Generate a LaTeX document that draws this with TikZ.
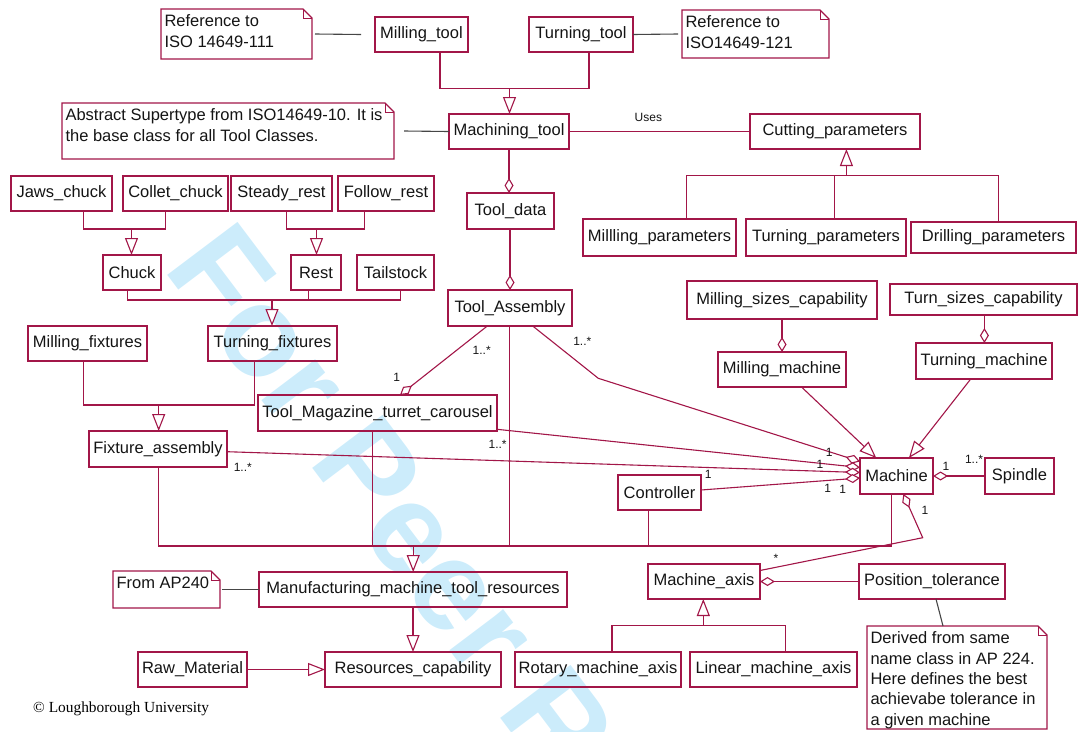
\documentclass[tikz,border=0pt]{standalone}
\usepackage{fontspec}
\setmainfont{Liberation Sans}
\newfontfamily\serifcr{Liberation Serif}
\usetikzlibrary{arrows.meta}
\definecolor{umlred}{RGB}{162,22,72}
\definecolor{notegray}{RGB}{70,70,70}
\definecolor{wmblue}{RGB}{204,236,251}
\definecolor{txt}{RGB}{20,20,20}
\tikzset{
  cls/.style={draw=umlred, line width=1.2pt, inner sep=2pt, outer sep=0pt, text=txt, font=\fontsize{16.5}{19}\selectfont},
  notebox/.style={inner sep=0pt, outer sep=0pt},
  notetext/.style={inner sep=0pt, outer sep=0pt, text=txt, align=left, font=\fontsize{16.5}{20.3}\selectfont},
  noteline/.style={draw=umlred, line width=1.2pt},
  noteconn/.style={draw=notegray, line width=1.1pt},
  rel/.style={draw=umlred, line width=1.1pt},
  gen/.style={rel, -{Triangle[fill=white, length=17pt, width=13pt]}},
  agg/.style={rel, -{Diamond[fill=white, length=15pt, width=9pt]}},
  mult/.style={font=\fontsize{12}{12}\selectfont, text=txt, inner sep=0pt, text height=8.6pt, text depth=0pt},
  wm/.style={font=\fontsize{128}{128}\selectfont\bfseries, text=wmblue, inner sep=0pt},
}
\newcommand{\bx}[6]{\node[cls, minimum width={#4-#2}, minimum height={#5-#3}] (#1) at ({(#2+#4)/2},{(#3+#5)/2}) {#6};}
\newcommand{\nt}[6]{\node[notebox, minimum width={#4-#2}, minimum height={#5-#3}] (#1) at ({(#2+#4)/2},{(#3+#5)/2}) {};
  \draw[noteline] (#1.south west) -- (#1.north west) -- ([xshift=-9pt]#1.north east) -- ([yshift=-9pt]#1.north east) -- (#1.south east) -- cycle;
  \draw[noteline, line width=0.8pt] ([xshift=-9pt]#1.north east) -- ([xshift=-9pt,yshift=-9pt]#1.north east) -- ([yshift=-9pt]#1.north east);
  \node[notetext, anchor=north west] (#1t) at ([xshift=3.5pt,yshift=-6pt]#1.north west) {#6};}
\begin{document}
\begin{tikzpicture}[x=1pt,y=-1pt]
\useasboundingbox (0,0) rectangle (1078,731);
\clip (0,0) rectangle (1078,731);
\node[wm, anchor=base west, rotate=-53] (wm) at (162,268) {For Peer Review};

% classes
\bx{milltool}{375}{17}{468}{52}{Milling\_tool}
\bx{turntool}{529}{17}{633}{52}{Turning\_tool}
\bx{machtool}{449}{114}{569}{149}{Machining\_tool}
\bx{cutpar}{750}{114}{920}{149}{Cutting\_parameters}
\bx{millpar}{583}{219}{736}{256}{Millling\_parameters}
\bx{turnpar}{746}{219}{906}{256}{Turning\_parameters}
\bx{drillpar}{911}{222}{1076}{253}{Drilling\_parameters}
\bx{tooldata}{467}{193}{554}{229}{Tool\_data}
\bx{toolasm}{448}{290}{572}{326}{Tool\_Assembly}
\bx{jaws}{11}{176}{112}{211}{Jaws\_chuck}
\bx{collet}{123}{176}{228}{211}{Collet\_chuck}
\bx{steady}{231}{176}{332}{211}{Steady\_rest}
\bx{follow}{338}{176}{434}{211}{Follow\_rest}
\bx{chuck}{103}{255}{161}{290}{Chuck}
\bx{rest}{291}{255}{341}{290}{Rest}
\bx{tail}{357}{255}{434}{290}{Tailstock}
\bx{millfix}{28}{326}{147}{361}{Milling\_fixtures}
\bx{turnfix}{208}{326}{337}{361}{Turning\_fixtures}
\bx{fixasm}{89}{431}{227}{467}{Fixture\_assembly}
\bx{tmtc}{258}{395}{497}{431}{Tool\_Magazine\_turret\_carousel}
\bx{millsz}{687}{281}{877}{319}{Milling\_sizes\_capability}
\bx{turnsz}{890}{284}{1077}{315}{Turn\_sizes\_capability}
\bx{millmach}{718}{352}{846}{387}{Milling\_machine}
\bx{turnmach}{916}{343}{1052}{379}{Turning\_machine}
\bx{machine}{860}{458}{933}{494}{Machine}
\bx{spindle}{985}{458}{1054}{494}{Spindle}
\bx{controller}{618}{475}{701}{510}{Controller}
\bx{mmtr}{259}{572}{567}{607}{Manufacturing\_machine\_tool\_resources}
\bx{rescap}{325}{652}{501}{687}{Resources\_capability}
\bx{raw}{138}{652}{247}{687}{Raw\_Material}
\bx{maxis}{648}{564}{760}{599}{Machine\_axis}
\bx{postol}{859}{564}{1005}{599}{Position\_tolerance}
\bx{rotary}{515}{652}{681}{687}{Rotary\_machine\_axis}
\bx{linear}{690}{652}{857}{687}{Linear\_machine\_axis}

% notes
\nt{note1}{161}{9}{312}{59}{Reference to\\ISO 14649-111}
\nt{note2}{62}{103}{394}{159}{Abstract Supertype from ISO14649-10. It is\\the base class for all Tool Classes.}
\nt{note3}{682}{10}{829}{58}{Reference to\\ISO14649-121}
\nt{note4}{867}{626}{1047}{729}{Derived from same\\name class in AP 224.\\Here defines the best\\achievabe tolerance in\\a given machine}
\nt{note5}{113}{571}{220}{608}{From AP240}

% note connectors
\draw[noteconn] ([xshift=3pt]note1.east) -- ([xshift=-14pt]milltool.west);
\draw[noteconn] (turntool.east) -- ([xshift=-4pt]note3.west);
\draw[noteconn] ([xshift=10pt]note2.east) -- (machtool.west);
\draw[noteconn] ([xshift=2pt]note5.east) -- (mmtr.west);
\draw[noteconn] ([xshift=4pt]postol.south) -- ([xshift=-14pt]note4.north);

% generalizations
\coordinate (g1) at (509.5,88.3);
\draw[rel] ([xshift=18.5pt]milltool.south) |- (g1) -| ([xshift=8pt]turntool.south);
\draw[gen] (g1) -- (g1 |- machtool.north);

\coordinate (g2) at (846.4,175.7);
\draw[rel] ([xshift=27.4pt]millpar.north) |- (g2) -| ([xshift=4.6pt]drillpar.north);
\draw[rel] ([xshift=8.4pt]turnpar.north) -- ([xshift=8.4pt]turnpar.north |- g2);
\draw[gen] (g2) -- (g2 |- cutpar.south);

\coordinate (g3) at (131.5,229);
\draw[rel] ([xshift=22.2pt]jaws.south) |- (g3) -| ([xshift=-10pt]collet.south);
\draw[gen] (g3) -- (g3 |- chuck.north);

\coordinate (g4) at (316.5,229);
\draw[rel] ([xshift=5.3pt]steady.south) |- (g4) -| ([xshift=-21.3pt]follow.south);
\draw[gen] (g4) -- (g4 |- rest.north);

\coordinate (g5) at (272,300);
\draw[rel] ([xshift=-4.2pt]chuck.south) |- (g5) -| ([xshift=5pt]tail.south);
\draw[rel] ([xshift=-7.1pt]rest.south) -- ([xshift=-7.1pt]rest.south |- g5);
\draw[gen] (g5) -- (g5 |- turnfix.north);

\coordinate (g6) at (158.7,405);
\draw[rel] ([xshift=-3.8pt]millfix.south) |- (g6) -| ([xshift=-18.4pt]turnfix.south);
\draw[gen] (g6) -- (g6 |- fixasm.north);

\coordinate (g7) at (413.2,546);
\draw[rel] ([xshift=0.7pt]fixasm.south) |- (g7) -| ([xshift=-4.8pt]machine.south);
\draw[rel] ([xshift=-4.6pt]tmtc.south) -- ([xshift=-4.6pt]tmtc.south |- g7);
\draw[rel] ([xshift=-0.4pt]toolasm.south) -- ([xshift=-0.4pt]toolasm.south |- g7);
\draw[rel] ([xshift=-11.2pt]controller.south) -- ([xshift=-11.2pt]controller.south |- g7);
\draw[gen] (g7) -- (g7 |- mmtr.north);

\draw[gen] (mmtr.south) -- (mmtr.south |- rescap.north);
\draw[gen] (raw.east) -- (rescap.west);

\draw[gen] ([xshift=19.5pt]millmach.south) -- ([xshift=-20.2pt]machine.north);
\draw[gen] ([xshift=-13.3pt]turnmach.south) -- ([xshift=12.4pt]machine.north);

\coordinate (g8) at (703.3,625.7);
\draw[rel] ([xshift=14pt]rotary.north) |- (g8) -| ([xshift=11.9pt]linear.north);
\draw[gen] (g8) -- (g8 |- maxis.south);

% association
\draw[rel] (machtool.east) -- (cutpar.west);
\node[mult] (uses) at (648.4,117.3) {Uses};

% aggregations
\draw[agg] (machtool.south) -- (machtool.south |- tooldata.north);
\draw[agg] (toolasm.north |- tooldata.south) -- (toolasm.north);
\draw[agg] (millsz.south) -- (millsz.south |- millmach.north);
\draw[agg] ([xshift=0.9pt]turnsz.south) -- ([xshift=0.9pt]turnsz.south |- turnmach.north);
\draw[agg] (spindle.west) -- (machine.east);
\draw[agg] (postol.west) -- (maxis.east);
\draw[agg] ([xshift=-22.7pt]toolasm.south) -- ([xshift=22.5pt]tmtc.north);
\coordinate (b1) at (598.3,378.3);
\draw[agg] ([xshift=22.7pt]toolasm.south) -- (b1) -- ([yshift=14.5pt]machine.west);
\draw[agg] ([yshift=-16.3pt]tmtc.east) -- ([yshift=8.5pt]machine.west);
\draw[agg] ([yshift=-2.7pt]fixasm.east) -- ([yshift=3.5pt]machine.west);
\draw[agg] ([yshift=2.5pt]controller.east) -- ([yshift=-2pt]machine.west);
\coordinate (b2) at (922.7,537.7);
\draw[agg] ([yshift=11pt]maxis.east) -- (b2) -- ([xshift=6.8pt]machine.south);

% multiplicities
\node[mult] (m1) at (481.7,350) {1..*};
\node[mult] (m2) at (396.7,377.3) {1};
\node[mult] (m3) at (582.3,341) {1..*};
\node[mult] (m4) at (829.3,451.7) {1};
\node[mult] (m5) at (497.6,444.3) {1..*};
\node[mult] (m6) at (820,464.3) {1};
\node[mult] (m7) at (242.8,466.7) {1..*};
\node[mult] (m8) at (708.2,474) {1};
\node[mult] (m9) at (827.6,487.7) {1};
\node[mult] (m10) at (842.7,489.3) {1};
\node[mult] (m11) at (946,466) {1};
\node[mult] (m12) at (974,459.3) {1..*};
\node[mult] (m13) at (925,510) {1};
\node[mult] (m14) at (776,558) {*};

\node[anchor=west, inner sep=0pt, font=\serifcr\fontsize{15.4}{15.4}\selectfont, text=black] (copy) at (33,709.3) {\textcopyright\ Loughborough University};
\end{tikzpicture}
\end{document}
